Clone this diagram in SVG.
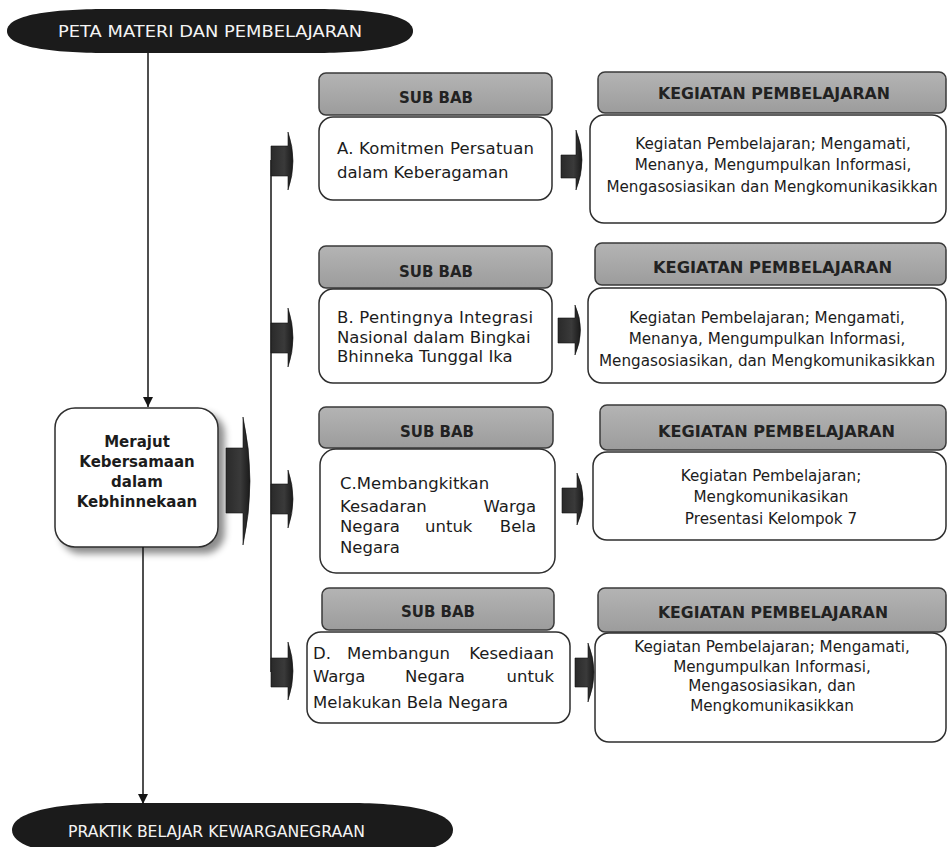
<svg xmlns="http://www.w3.org/2000/svg" width="948" height="847" viewBox="0 0 948 847">
  <defs>
    <style>
      text { font-family: "DejaVu Sans", Verdana, sans-serif; fill: #1c1c1c; }
      .banner { fill: #1b1b1b; }
      .banner-text { fill: #f4f4f4; font-size: 16.5px; }
      .box { fill: #ffffff; stroke: #2e2e2e; stroke-width: 1.5; }
      .head { fill: url(#headFill); stroke: #3a3a3a; stroke-width: 1.5; }
      .head-text { font-weight: bold; font-size: 15px; fill: #222; }
      .sub-text { font-size: 16.5px; }
      .act-text { font-size: 15.2px; text-anchor: middle; }
      .main-text { font-size: 15px; font-weight: bold; text-anchor: middle; }
      .line { stroke: #151515; stroke-width: 1.5; fill: none; }
      .block { fill: url(#blockFill); stroke: #111; stroke-width: 0.6; }
    </style>
    <linearGradient id="headFill" x1="0" y1="0" x2="0" y2="1">
      <stop offset="0" stop-color="#b4b4b4"/>
      <stop offset="1" stop-color="#9c9c9c"/>
    </linearGradient>
    <linearGradient id="blockFill" x1="0" y1="0" x2="1" y2="0">
      <stop offset="0" stop-color="#2a2a2a"/>
      <stop offset="0.6" stop-color="#3a3a3a"/>
      <stop offset="1" stop-color="#1a1a1a"/>
    </linearGradient>
    <marker id="tip" viewBox="0 0 10 10" refX="10" refY="5" markerWidth="10" markerHeight="10" markerUnits="userSpaceOnUse" orient="auto">
      <path d="M0,0 L10,5 L0,10 Z" fill="#151515"/>
    </marker>
    <filter id="shadow" x="-20%" y="-20%" width="150%" height="150%">
      <feDropShadow dx="6" dy="6" stdDeviation="3.5" flood-color="#000" flood-opacity="0.45"/>
    </filter>
  </defs>

  <rect width="948" height="847" fill="#ffffff"/>

  <!-- title banner -->
  <g id="banner-top">
    <path class="banner" d="M7,31 C7,13 60,9 110,9 H310 C362,9 413,13 413,31 C413,49 362,53 310,53 H110 C60,53 7,49 7,31 Z"/>
    <text class="banner-text" x="58" y="37" textLength="304" lengthAdjust="spacingAndGlyphs">PETA MATERI DAN PEMBELAJARAN</text>
  </g>

  <!-- closing banner -->
  <g id="banner-bottom">
    <path class="banner" d="M12,830 C12,810 65,803 115,803 H350 C402,803 453,810 453,830 C453,850 402,857 350,857 H115 C65,857 12,850 12,830 Z"/>
    <text class="banner-text" x="68" y="837" textLength="297" lengthAdjust="spacingAndGlyphs">PRAKTIK BELAJAR KEWARGANEGRAAN</text>
  </g>

  <!-- central topic -->
  <g id="topic">
    <rect class="box" x="55" y="408" width="163" height="139" rx="20" filter="url(#shadow)"/>
    <text class="main-text" x="137" y="447">Merajut</text>
    <text class="main-text" x="137" y="467">Kebersamaan</text>
    <text class="main-text" x="137" y="487">dalam</text>
    <text class="main-text" x="137" y="507">Kebhinnekaan</text>
  </g>

  <!-- sub chapter A -->
  <g id="subbab-a">
    <rect class="head" x="319" y="73" width="233" height="42" rx="7"/>
    <text class="head-text" x="436" y="103" text-anchor="middle">SUB BAB</text>
    <rect class="box" x="319" y="117" width="233" height="83" rx="14"/>
    <text class="sub-text" x="337" y="154" textLength="197">A. Komitmen Persatuan</text>
    <text class="sub-text" x="337" y="178">dalam Keberagaman</text>
  </g>
  <g id="kegiatan-a">
    <rect class="head" x="598" y="72" width="348" height="41" rx="7"/>
    <text class="head-text" x="658" y="99" textLength="232" lengthAdjust="spacingAndGlyphs">KEGIATAN PEMBELAJARAN</text>
    <rect class="box" x="590" y="115" width="356" height="108" rx="14"/>
    <text class="act-text" x="773" y="149">Kegiatan Pembelajaran; Mengamati,</text>
    <text class="act-text" x="773" y="170">Menanya, Mengumpulkan Informasi,</text>
    <text class="act-text" x="772" y="192">Mengasosiasikan dan Mengkomunikasikkan</text>
  </g>

  <!-- sub chapter B -->
  <g id="subbab-b">
    <rect class="head" x="319" y="246" width="233" height="42" rx="7"/>
    <text class="head-text" x="436" y="277" text-anchor="middle">SUB BAB</text>
    <rect class="box" x="319" y="289" width="233" height="94" rx="14"/>
    <text class="sub-text" x="337" y="323" textLength="196">B. Pentingnya Integrasi</text>
    <text class="sub-text" x="337" y="343">Nasional dalam Bingkai</text>
    <text class="sub-text" x="337" y="362">Bhinneka Tunggal Ika</text>
  </g>
  <g id="kegiatan-b">
    <rect class="head" x="595" y="243" width="351" height="42" rx="7"/>
    <text class="head-text" x="653" y="273" textLength="239" lengthAdjust="spacingAndGlyphs">KEGIATAN PEMBELAJARAN</text>
    <rect class="box" x="588" y="288" width="358" height="95" rx="14"/>
    <text class="act-text" x="767" y="323">Kegiatan Pembelajaran; Mengamati,</text>
    <text class="act-text" x="767" y="344">Menanya, Mengumpulkan Informasi,</text>
    <text class="act-text" x="767" y="366">Mengasosiasikan, dan Mengkomunikasikkan</text>
  </g>

  <!-- sub chapter C -->
  <g id="subbab-c">
    <rect class="head" x="319" y="407" width="234" height="41" rx="7"/>
    <text class="head-text" x="437" y="437" text-anchor="middle">SUB BAB</text>
    <rect class="box" x="320" y="449" width="235" height="124" rx="16"/>
    <text class="sub-text" x="340" y="489">C.Membangkitkan</text>
    <text class="sub-text" y="512"><tspan x="340">Kesadaran</tspan><tspan x="536" text-anchor="end">Warga</tspan></text>
    <text class="sub-text" y="532"><tspan x="340">Negara</tspan><tspan x="425">untuk</tspan><tspan x="536" text-anchor="end">Bela</tspan></text>
    <text class="sub-text" x="340" y="553">Negara</text>
  </g>
  <g id="kegiatan-c">
    <rect class="head" x="600" y="405" width="346" height="45" rx="7"/>
    <text class="head-text" x="658" y="437" textLength="237" lengthAdjust="spacingAndGlyphs">KEGIATAN PEMBELAJARAN</text>
    <rect class="box" x="593" y="452" width="353" height="88" rx="14"/>
    <text class="act-text" x="771" y="481">Kegiatan Pembelajaran;</text>
    <text class="act-text" x="771" y="502">Mengkomunikasikan</text>
    <text class="act-text" x="771" y="524">Presentasi Kelompok 7</text>
  </g>

  <!-- sub chapter D -->
  <g id="subbab-d">
    <rect class="head" x="322" y="588" width="232" height="42" rx="7"/>
    <text class="head-text" x="438" y="617" text-anchor="middle">SUB BAB</text>
    <rect class="box" x="307" y="632" width="263" height="91" rx="14"/>
    <text class="sub-text" y="659"><tspan x="313">D.</tspan><tspan x="347">Membangun</tspan><tspan x="554" text-anchor="end">Kesediaan</tspan></text>
    <text class="sub-text" y="682"><tspan x="313">Warga</tspan><tspan x="405">Negara</tspan><tspan x="554" text-anchor="end">untuk</tspan></text>
    <text class="sub-text" x="313" y="708">Melakukan Bela Negara</text>
  </g>
  <g id="kegiatan-d">
    <rect class="head" x="598" y="588" width="348" height="44" rx="7"/>
    <text class="head-text" x="658" y="618" textLength="230" lengthAdjust="spacingAndGlyphs">KEGIATAN PEMBELAJARAN</text>
    <rect class="box" x="595" y="633" width="351" height="109" rx="14"/>
    <text class="act-text" x="772" y="652">Kegiatan Pembelajaran; Mengamati,</text>
    <text class="act-text" x="772" y="672">Mengumpulkan Informasi,</text>
    <text class="act-text" x="772" y="691">Mengasosiasikan, dan</text>
    <text class="act-text" x="772" y="711">Mengkomunikasikkan</text>
  </g>

  <!-- connectors -->
  <g id="connectors">
    <line class="line" x1="148" y1="53" x2="148" y2="407" marker-end="url(#tip)"/>
    <line class="line" x1="143" y1="547" x2="143" y2="804" marker-end="url(#tip)"/>
    <line class="line" x1="271" y1="160" x2="271" y2="672"/>

    <!-- topic to branch -->
    <path class="block" d="M226,448 H243 V417 Q257,481 243,545 V513 H226 Z"/>

    <!-- branch to sub chapters -->
    <path class="block" d="M271,146 H288 V132 Q298,161 288,190 V176 H271 Z"/>
    <path class="block" d="M271,323 H288 V308 Q298,338 288,367 V353 H271 Z"/>
    <path class="block" d="M271,484 H288 V470 Q298,499 288,528 V514 H271 Z"/>
    <path class="block" d="M271,658 H288 V642 Q298,671 288,700 V687 H271 Z"/>

    <!-- sub chapters to activities -->
    <path class="block" d="M561,155 H576 V130 Q588,160 576,190 V178 H561 Z"/>
    <path class="block" d="M558,318 H575 V305 Q586,330 575,355 V343 H558 Z"/>
    <path class="block" d="M562,488 H577 V473 Q589,499 577,525 V513 H562 Z"/>
    <path class="block" d="M575,658 H588 V643 Q600,672 588,702 V687 H575 Z"/>
  </g>
</svg>
